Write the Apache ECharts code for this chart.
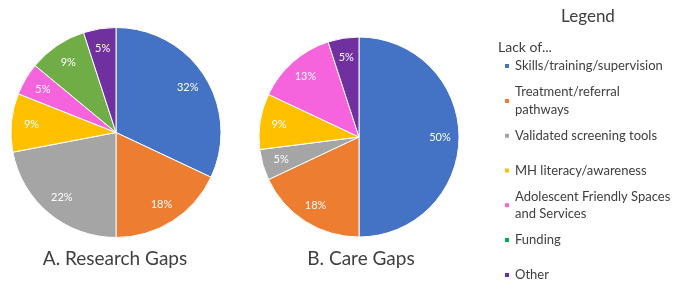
<!DOCTYPE html>
<html>
<head>
<meta charset="utf-8">
<script src="https://cdn.jsdelivr.net/npm/echarts@6/dist/echarts.min.js"></script>
<style>
html,body{margin:0;padding:0;background:#fff;}
#chart{width:685px;height:296px;}
</style>
</head>
<body>
<div id="chart"></div>
<script>
const categories = ['Skills/training/supervision','Treatment/referral pathways','Validated screening tools','MH literacy/awareness','Adolescent Friendly Spaces and Services','Funding','Other'];
const legendLabels = ['Skills/training/supervision','Treatment/referral\npathways','Validated screening tools','MH literacy/awareness','Adolescent Friendly Spaces\nand Services','Funding','Other'];
const researchValues = [32, 18, 22, 9, 5, 9, 5];
const careValues = [50, 18, 5, 9, 13, 0, 5];
const sliceColors = ['#4472C4','#ED7D31','#A5A5A5','#FFC000','#F564DC','#70AD47','#7030A0'];
const legendIconColors = ['#4472C4','#ED7D31','#A5A5A5','#FFC000','#F564DC','#00B050','#7030A0'];
const pieTitles = ['A. Research Gaps','B. Care Gaps'];

const FONT = 'Lato';
const TXT = '#404040';

function pieData(values){
  return categories.map((c,i)=>({name:c, value:values[i], itemStyle:{color:sliceColors[i]}})).filter(d=>d.value>0);
}
function basePie(values, center, r){
  return {
    type:'pie', center:center, radius:[0, r], startAngle:90, clockwise:true,
    silent:true, animation:false, avoidLabelOverlap:false,
    data: pieData(values),
    itemStyle:{borderColor:'#fff', borderWidth:1},
    label:{show:false}, labelLine:{show:false}
  };
}
function labelPie(values, center, r){
  return {
    type:'pie', center:center, radius:[r*0.56, r], startAngle:90, clockwise:true,
    silent:true, animation:false, avoidLabelOverlap:false,
    data: pieData(values).map(d=>Object.assign({}, d, {itemStyle:{color:'rgba(0,0,0,0)', borderWidth:0}})),
    label:{show:true, position:'inside', formatter: p => p.value + '%', color:'#fff', fontSize:11, fontFamily:FONT},
    labelLine:{show:false}
  };
}

const chart = echarts.init(document.getElementById('chart'), null, {renderer:'canvas'});
const LH = 17.4;
const titleStyle = (size) => ({color:TXT, fontSize:size, fontWeight:'normal', fontFamily:FONT});
chart.setOption({
  backgroundColor:'#fff',
  animation:false,
  title:[
    {text:pieTitles[0], left:115, top:249, padding:0, textAlign:'center', textStyle:titleStyle(19)},
    {text:pieTitles[1], left:361, top:249, padding:0, textAlign:'center', textStyle:titleStyle(19)},
    {text:'Legend', left:588, top:8, padding:0, textAlign:'center', textStyle:titleStyle(17)},
    {text:'Lack of...', left:498, top:40, padding:0, textStyle:titleStyle(14)}
  ],
  legend:{
    orient:'vertical', left:503, top:40, height:290, padding:0, itemGap:-LH,
    itemWidth:6, itemHeight:6, icon:'rect', selectedMode:false,
    textStyle:{color:TXT, fontSize:13, fontFamily:FONT, lineHeight:LH},
    formatter: name => legendLabels[categories.indexOf(name)],
    data: categories.map((c,i)=>({
      name:c,
      itemStyle:{color:legendIconColors[i]},
      textStyle:{padding: legendLabels[i].indexOf('\n')>=0 ? [LH,0,0,0] : [LH,0,LH,0]}
    }))
  },
  series:[
    basePie(researchValues, [116, 132.5], 105),
    basePie(careValues, [359, 137], 100),
    labelPie(researchValues, [116, 132.5], 105),
    labelPie(careValues, [359, 137], 100)
  ]
});
</script>
</body>
</html>
